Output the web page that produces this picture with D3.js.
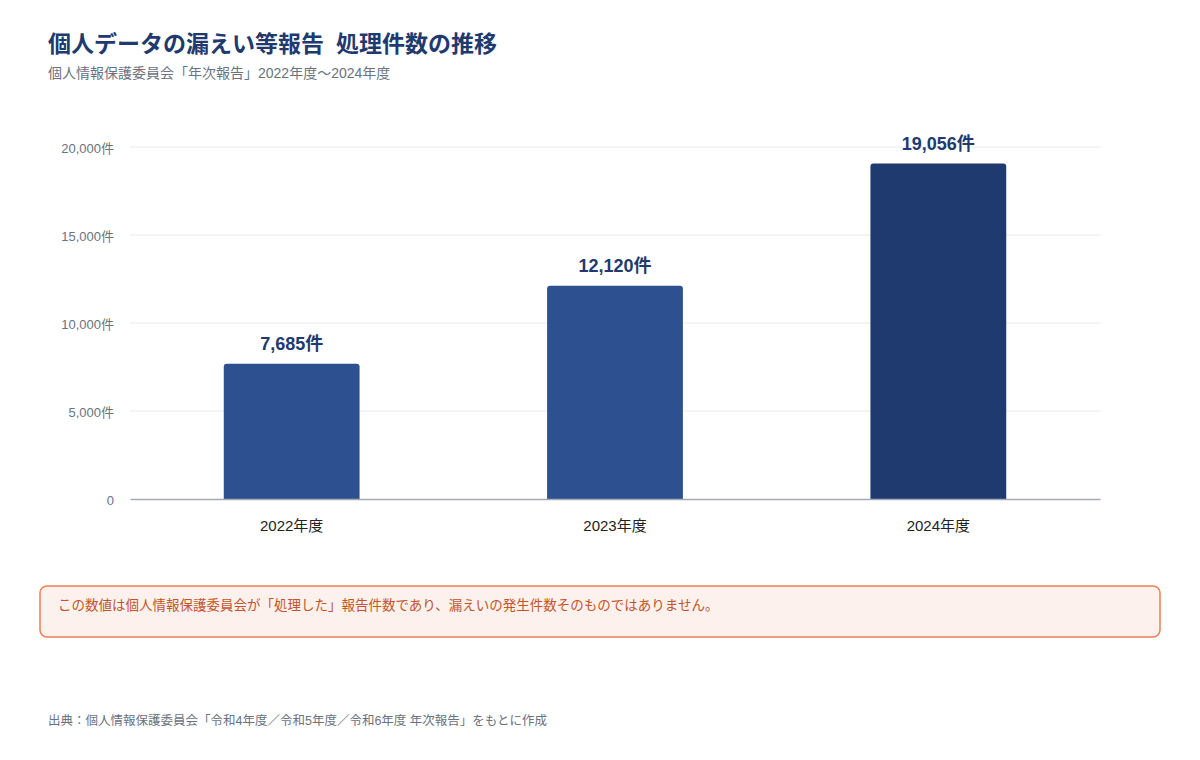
<!DOCTYPE html>
<html lang="ja">
<head>
<meta charset="utf-8">
<script src="https://cdn.jsdelivr.net/npm/d3@7"></script>
<style>
  body { margin: 0; background: #fff; font-family: "Liberation Sans", Arial, "Noto Sans CJK JP", sans-serif; }
</style>
</head>
<body>
<div id="chart"></div>
<script>
// data
const years = ["2022年度", "2023年度", "2024年度"];
const counts = [7685, 12120, 19056];
const barColors = ["#2d5190", "#2d5190", "#1f3a6f"];
const yTicks = [0, 5000, 10000, 15000, 20000];

const svgWidth = 1200;
const svgHeight = 760;
const margin = { top: 147, right: 100, bottom: 261, left: 130 };
const width = svgWidth - margin.left - margin.right;
const height = svgHeight - margin.top - margin.bottom;

const svg = d3.select("#chart").append("svg")
  .attr("width", svgWidth)
  .attr("height", svgHeight);

// title and subtitle
const title = svg.append("text")
  .attr("x", 48).attr("y", 52)
  .style("font-size", "23px").style("font-weight", "bold")
  .style("fill", "#1f3a6f");
title.append("tspan").text("個人データの漏えい等報告");
title.append("tspan").attr("dx", 12).text("処理件数の推移");

svg.append("text")
  .attr("x", 48).attr("y", 78)
  .style("font-size", "14px")
  .style("fill", "#6b7280")
  .text("個人情報保護委員会「年次報告」2022年度〜2024年度");

const g = svg.append("g")
  .attr("transform", `translate(${margin.left}, ${margin.top})`);

// scales
const x = d3.scaleBand()
  .domain(years)
  .range([0, width])
  .paddingInner(0.58)
  .paddingOuter(0.29);

const y = d3.scaleLinear()
  .domain([0, 20000])
  .range([height, 0]);

// gridlines
g.selectAll(".grid")
  .data(yTicks.filter(d => d > 0))
  .enter().append("line")
  .attr("x1", 0).attr("x2", width)
  .attr("y1", d => y(d)).attr("y2", d => y(d))
  .style("stroke", "#e8eaef").style("stroke-width", 1);

// y axis
const leftAxis = d3.axisLeft(y)
  .tickValues(yTicks)
  .tickSize(0)
  .tickPadding(16)
  .tickFormat(d => d === 0 ? "0" : d3.format(",")(d) + "件");

const yAxisG = g.append("g").call(leftAxis);
yAxisG.select(".domain").remove();
yAxisG.selectAll("text")
  .attr("dy", "0.4em")
  .style("font-size", "13px")
  .style("fill", "#6b7280")
  .style("font-family", "'Liberation Sans', Arial, 'Noto Sans CJK JP', sans-serif");

// bars (rounded top)
const r = 3;
g.selectAll(".bar")
  .data(counts)
  .enter().append("path")
  .attr("d", (d, i) => {
    const x0 = x(years[i]), w = x.bandwidth();
    const y0 = y(d), y1 = y(0);
    return `M${x0},${y1} L${x0},${y0 + r} Q${x0},${y0} ${x0 + r},${y0} ` +
      `L${x0 + w - r},${y0} Q${x0 + w},${y0} ${x0 + w},${y0 + r} L${x0 + w},${y1} Z`;
  })
  .style("fill", (d, i) => barColors[i]);

// value labels
g.selectAll(".value")
  .data(counts)
  .enter().append("text")
  .attr("x", (d, i) => x(years[i]) + x.bandwidth() / 2)
  .attr("y", d => y(d) - 14)
  .style("text-anchor", "middle")
  .style("font-size", "18px").style("font-weight", "bold")
  .style("fill", "#1f3a6f")
  .text(d => d3.format(",")(d) + "件");

// x axis
const bottomAxis = d3.axisBottom(x).tickSize(0).tickPadding(21);
const xAxisG = g.append("g")
  .attr("transform", `translate(0, ${height})`)
  .call(bottomAxis);
xAxisG.select(".domain").style("stroke", "#a3aab5").style("stroke-width", 1.5);
xAxisG.selectAll("text")
  .style("font-size", "15px")
  .style("fill", "#222")
  .style("font-family", "'Liberation Sans', Arial, 'Noto Sans CJK JP', sans-serif");

// note box
svg.append("rect")
  .attr("x", 40).attr("y", 586)
  .attr("width", 1120).attr("height", 51)
  .attr("rx", 7)
  .style("fill", "#fcf1ed")
  .style("stroke", "#ec7f56").style("stroke-width", 1.5);

svg.append("text")
  .attr("x", 58).attr("y", 610)
  .style("font-size", "13.5px")
  .style("fill", "#c4532a")
  .text("この数値は個人情報保護委員会が「処理した」報告件数であり、漏えいの発生件数そのものではありません。");

// source
svg.append("text")
  .attr("x", 48).attr("y", 725)
  .style("font-size", "12.5px")
  .style("fill", "#6b7280")
  .text("出典：個人情報保護委員会「令和4年度／令和5年度／令和6年度 年次報告」をもとに作成");
</script>
</body>
</html>
